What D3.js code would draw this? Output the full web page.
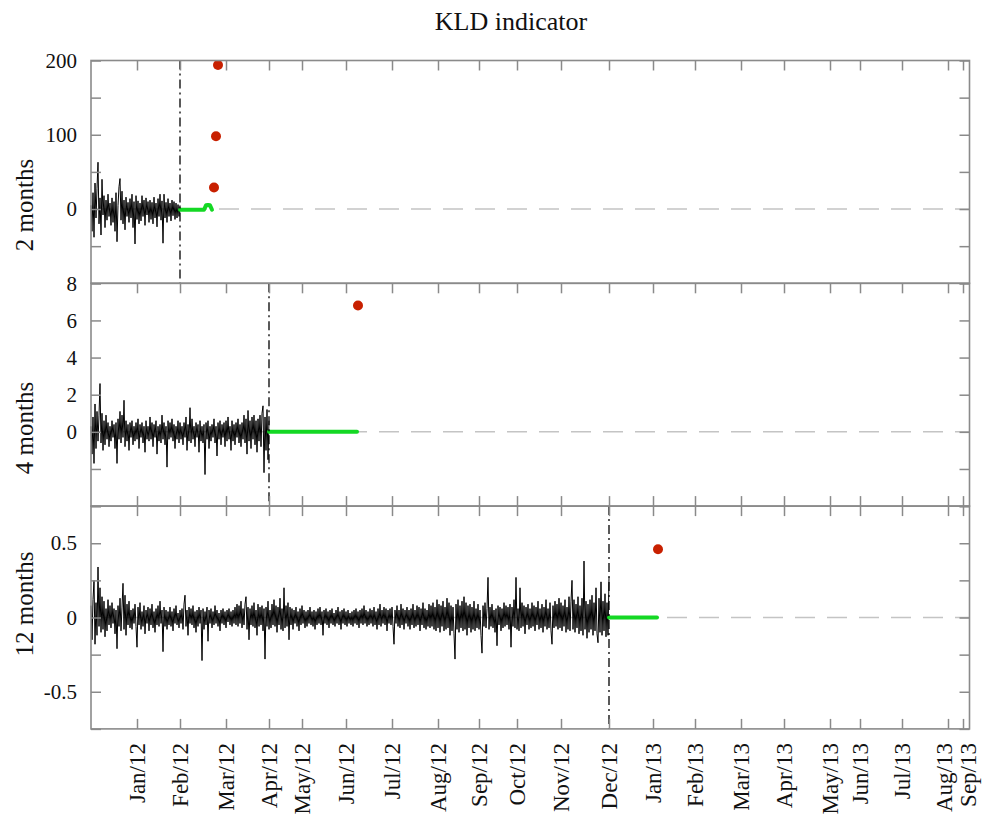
<!DOCTYPE html>
<html>
<head>
<meta charset="utf-8">
<script src="https://cdn.jsdelivr.net/npm/d3@7"></script>
<style>
  body { margin: 0; background: #fff; }
  text { font-family: "Liberation Serif", "Times New Roman", serif; fill: #111; }
</style>
</head>
<body>
<svg id="chart" width="983" height="814"></svg>
<script>
// x axis is a sample index; month ticks sit where each month starts
var monthTicks = [46, 89, 135, 178, 211, 255, 301, 347, 388, 426, 470, 518, 562, 604, 650, 693, 739, 769, 811, 857, 872];
var monthNames = ["Jan/12", "Feb/12", "Mar/12", "Apr/12", "May/12", "Jun/12", "Jul/12", "Aug/12", "Sep/12", "Oct/12",
                  "Nov/12", "Dec/12", "Jan/13", "Feb/13", "Mar/13", "Apr/13", "May/13", "Jun/13", "Jul/13", "Aug/13", "Sep/13"];

var panelNames = ["2 months", "4 months", "12 months"];
var yDomains = [[-100, 200], [-4, 8], [-0.75, 0.75]];
var yTicks = [[-100, -50, 0, 50, 100, 150, 200], [-4, -2, 0, 2, 4, 6, 8], [-0.75, -0.5, -0.25, 0, 0.25, 0.5, 0.75]];
var yTickLabels = [[0, 100, 200], [0, 2, 4, 6, 8], [-0.5, 0, 0.5]];

// sample where the estimation window ends (dash-dot line)
var splitAt = [89, 178, 518];

// KLD indicator, one value per sample
var kld2 = [
  5, -30, 22, -38, 35, -12, 28, 63, -20, 15,
  -35, 40, -8, 18, -25, 12, -15, 20, -10, 8,
  -22, 15, -18, 10, -30, 22, -44, 5, 30, 41,
  -15, 24, -20, 12, -28, 16, -10, 9, -18, 14,
  -12, 20, -25, 10, -47, 18, -14, 11, -20, 8,
  -16, 18, -10, 12, -22, 15, -8, 10, -18, 12,
  -14, 9, -20, 16, -12, 8, -24, 14, -10, 20,
  -15, 11, -46, 20, -12, 9, -18, 14, -10, 8,
  -16, 12, -9, 10, -14, 8, -12, 6, -10, 5
];
var kld4 = [
  0.3, -1.2, 0.8, -1.7, 1.5, -0.9, 1.1, -0.5, 0.9, 2.6,
  -0.6, 1.0, -1.0, 0.6, -0.7, 0.9, -0.4, 0.5, -0.8, 0.3,
  -0.5, 0.6, -0.3, 0.4, -0.9, 0.5, -1.7, 0.7, -0.4, 1.1,
  -0.6, 0.9, -0.3, 1.7, -0.8, 0.6, -0.5, 0.4, -1.0, 0.5,
  -0.3, 0.6, -0.7, 0.3, -0.5, 0.5, -0.4, 0.7, -0.9, 0.4,
  -0.3, 0.5, -0.6, 0.3, -1.1, 0.6, -0.4, 0.3, -0.5, 0.8,
  -0.4, 0.5, -0.8, 0.4, -0.3, 0.6, -1.2, 0.3, -0.5, 0.4,
  -0.6, 0.9, -0.4, 0.5, -0.7, 0.3, -1.9, 0.6, -0.4, 0.5,
  -0.3, 0.7, -0.5, 0.4, -0.9, 0.3, -0.4, 0.6, -0.6, 0.5,
  -0.4, 0.3, -0.7, 0.5, -0.3, 0.8, -1.0, 0.4, -0.5, 1.3,
  -0.6, 0.7, -0.4, 0.3, -0.8, 0.5, -0.3, 0.4, -1.1, 0.6,
  -0.5, 0.3, -0.6, 0.4, -2.3, 0.5, -0.4, 0.6, -0.9, 0.3,
  -0.5, 0.4, -0.3, 0.7, -0.6, 0.3, -1.3, 0.5, -0.4, 0.6,
  -0.7, 0.4, -0.3, 0.5, -0.8, 0.6, -0.5, 0.8, -0.4, 0.3,
  -1.0, 0.6, -0.5, 0.4, -0.7, 0.5, -0.3, 0.7, -0.6, 0.4,
  -0.8, 0.5, -0.4, 0.9, -0.6, 0.7, -1.2, 1.15, -0.5, 0.6,
  -0.9, 0.8, -0.4, 0.9, -0.7, 0.6, -1.1, 0.7, -0.5, 0.9,
  -0.8, 1.0, 1.4, -2.2, 0.8, -1.0, 1.2, -1.5, 0.6
];
var kld12 = [
  0.08, -0.15, 0.12, 0.25, -0.18, 0.10, -0.12, 0.34, -0.06, 0.20, -0.10, 0.14, -0.08, 0.11, -0.13, 0.06, -0.09, 0.12, -0.05, 0.08,
  -0.07, 0.10, -0.04, 0.06, -0.11, 0.05, -0.21, 0.08, -0.06, 0.13, -0.09, 0.07, 0.23, -0.08, 0.15, -0.12, 0.09, -0.05, 0.11, -0.07,
  0.05, -0.08, 0.06, -0.04, 0.09, -0.06, -0.20, 0.07, -0.05, 0.10, -0.08, 0.04, -0.06, 0.08, -0.11, 0.05, -0.04, 0.07, -0.09, 0.06,
  -0.05, 0.09, -0.07, 0.04, -0.10, 0.06, -0.05, 0.08, -0.06, 0.11, -0.04, 0.05, -0.23, 0.07, -0.06, 0.05, -0.08, 0.04, -0.05, 0.07,
  -0.06, 0.04, -0.09, 0.06, -0.04, 0.08, -0.05, 0.03, -0.07, 0.05, -0.04, 0.06, -0.08, 0.09, 0.15, -0.06, 0.05, -0.12, 0.07, -0.04,
  0.06, -0.05, 0.08, -0.07, 0.04, -0.10, 0.05, -0.06, 0.07, -0.04, 0.05, -0.29, 0.06, -0.08, 0.04, -0.05, 0.07, -0.16, 0.05, -0.04,
  0.06, -0.07, 0.04, -0.05, 0.08, -0.04, 0.05, -0.06, 0.03, -0.09, 0.05, -0.04, 0.06, -0.05, 0.04, -0.07, 0.05, -0.03, 0.06, -0.05,
  0.04, -0.06, 0.05, -0.04, 0.07, -0.05, 0.09, -0.06, 0.08, -0.04, 0.11, -0.07, 0.06, -0.05, 0.09, 0.14, -0.08, 0.07, -0.15, 0.06,
  -0.05, 0.08, -0.06, 0.10, -0.07, 0.05, -0.12, 0.09, -0.06, 0.07, -0.05, 0.08, -0.09, 0.06, -0.28, 0.07, -0.06, 0.11, -0.08, 0.05,
  -0.07, 0.09, -0.05, 0.12, -0.06, 0.08, -0.10, 0.07, -0.05, 0.13, -0.08, 0.06, -0.09, 0.20, -0.07, 0.08, -0.06, 0.10, -0.15, 0.07,
  -0.05, 0.06, -0.08, 0.05, -0.04, 0.07, -0.06, 0.04, -0.09, 0.06, -0.05, 0.08, -0.04, 0.05, -0.07, 0.04, -0.06, 0.05, -0.04, 0.07,
  -0.05, 0.04, -0.06, 0.05, -0.08, 0.04, -0.05, 0.06, -0.04, 0.07, -0.05, 0.04, -0.12, 0.05, -0.04, 0.06, -0.05, 0.04, -0.07, 0.05,
  -0.04, 0.06, -0.05, 0.03, -0.06, 0.05, -0.04, 0.07, -0.05, 0.04, -0.08, 0.05, -0.04, 0.06, -0.05, 0.04, -0.06, 0.05, -0.04, 0.03,
  -0.05, 0.04, -0.06, 0.05, -0.04, 0.06, -0.05, 0.04, -0.07, 0.05, -0.04, 0.06, -0.05, 0.08, -0.04, 0.05, -0.06, 0.04, -0.05, 0.06,
  -0.04, 0.05, -0.06, 0.07, -0.05, 0.04, -0.08, 0.06, -0.05, 0.09, -0.06, 0.05, -0.04, 0.07, -0.05, 0.06, -0.09, 0.05, -0.04, 0.06,
  -0.05, 0.07, -0.06, -0.18, 0.05, -0.04, 0.08, -0.06, 0.05, -0.07, 0.09, -0.05, 0.06, -0.08, 0.05, -0.04, 0.07, -0.06, 0.05, -0.08,
  0.06, -0.05, 0.09, -0.07, 0.05, -0.06, 0.08, -0.05, 0.07, -0.09, 0.06, -0.05, 0.10, -0.07, 0.06, -0.08, 0.05, -0.06, 0.09, -0.07,
  0.08, -0.06, 0.10, -0.08, 0.07, -0.09, 0.12, -0.07, 0.09, -0.10, 0.08, -0.06, 0.11, -0.09, 0.07, -0.08, 0.13, -0.07, 0.10, -0.12,
  0.08, -0.09, 0.07, -0.11, -0.28, 0.09, -0.08, 0.12, -0.10, 0.08, -0.07, 0.11, -0.09, 0.14, -0.08, 0.10, -0.12, 0.08, -0.07, 0.09,
  -0.10, 0.07, -0.08, 0.11, -0.09, 0.06, -0.07, 0.09, -0.08, 0.05, -0.12, -0.24, 0.08, -0.06, 0.10, -0.07, 0.06, 0.27, -0.08, 0.07,
  -0.06, 0.09, -0.07, 0.05, -0.10, 0.06, -0.19, 0.08, -0.05, 0.07, -0.09, 0.06, -0.07, 0.10, -0.06, 0.08, -0.05, 0.07, -0.08, 0.09,
  -0.20, 0.07, -0.06, 0.12, -0.07, 0.27, -0.08, 0.06, -0.09, 0.20, -0.07, 0.10, -0.06, 0.08, -0.11, 0.07, -0.05, 0.09, -0.08, 0.06,
  -0.07, 0.10, -0.06, 0.08, -0.09, 0.07, -0.05, 0.11, -0.08, 0.06, -0.07, 0.09, -0.10, 0.07, -0.06, 0.12, -0.08, 0.06, -0.07, 0.10,
  -0.09, -0.18, 0.08, -0.07, 0.11, -0.06, 0.09, -0.08, 0.13, -0.07, 0.10, -0.09, 0.08, -0.06, 0.12, -0.10, 0.07, -0.08, 0.14, -0.09,
  0.11, 0.25, -0.08, 0.12, -0.10, 0.09, -0.07, 0.14, -0.11, 0.08, -0.09, 0.13, -0.12, 0.38, -0.08, 0.11, -0.14, 0.09, -0.10, 0.12,
  -0.08, 0.15, -0.12, 0.10, -0.09, 0.20, -0.11, -0.17, 0.13, -0.10, 0.24, -0.12, 0.11, -0.09, 0.16, -0.13, 0.10, -0.12, 0.27
];

// forecast (green), one value every 2 samples from the split
var fc2 = [-1, -1, -1, -1, -1, -1, -1, -1, -1, -1, -1, -1, -1, 5, 5.5, 5, -1];
var fc4 = [0, 0, 0, 0, 0, 0, 0, 0, 0, 0, 0, 0, 0, 0, 0, 0, 0, 0, 0, 0, 0, 0, 0, 0, 0,
           0, 0, 0, 0, 0, 0, 0, 0, 0, 0, 0, 0, 0, 0, 0, 0, 0, 0, 0, 0];
var fc12 = [0, 0, 0, 0, 0, 0, 0, 0, 0, 0, 0, 0, 0, 0, 0, 0, 0, 0, 0, 0, 0, 0, 0, 0, 0];

// red points: sample index and value
var dotIdx = [[123, 125, 127], [267], [567]];
var dotVal = [[29, 98, 194], [6.8], [0.46]];

var series = [kld2, kld4, kld12];
var forecasts = [fc2, fc4, fc12];

var left = 91, right = 969.5, top0 = 60.5, ph = 222.8;
var frameColor = "#8a8a8a";
var titleCenters = [205, 428, 604];

var svg = d3.select("#chart");

var x = d3.scaleLinear().domain([0, 878.5]).range([left, right]);

svg.append("text")
    .attr("x", 511).attr("y", 30)
    .attr("text-anchor", "middle")
    .style("font-size", "26px")
    .text("KLD indicator");

panelNames.forEach(function(name, p) {
    var y0 = top0 + p * ph;
    var y = d3.scaleLinear().domain(yDomains[p]).range([y0 + ph, y0]);
    var g = svg.append("g");

    // zero reference line
    g.append("line")
        .attr("x1", left).attr("x2", right)
        .attr("y1", y(0)).attr("y2", y(0))
        .attr("stroke", "#c4c4c4")
        .attr("stroke-width", 1.5)
        .attr("stroke-dasharray", "20,12");

    // indicator
    var line = d3.line()
        .x(function(d, i) { return x(i); })
        .y(function(d) { return y(d); });
    g.append("path")
        .datum(series[p])
        .attr("d", line)
        .attr("fill", "none")
        .attr("stroke", "#000")
        .attr("stroke-width", 1);

    // forecast
    var fline = d3.line()
        .x(function(d, i) { return x(splitAt[p] + i * 2); })
        .y(function(d) { return y(d); });
    g.append("path")
        .datum(forecasts[p])
        .attr("d", fline)
        .attr("fill", "none")
        .attr("stroke", "#14d824")
        .attr("stroke-width", 4)
        .attr("stroke-linecap", "round")
        .attr("stroke-linejoin", "round");

    // end of estimation window
    g.append("line")
        .attr("x1", x(splitAt[p])).attr("x2", x(splitAt[p]))
        .attr("y1", y0).attr("y2", y0 + ph)
        .attr("stroke", "#000")
        .attr("stroke-width", 1.3)
        .attr("stroke-dasharray", "9,4,2,4");

    g.selectAll("circle")
        .data(dotVal[p])
        .enter()
        .append("circle")
        .attr("cx", function(d, i) { return x(dotIdx[p][i]); })
        .attr("cy", function(d) { return y(d); })
        .attr("r", 5)
        .attr("fill", "#c82000");

    // axes: all ticks point inward
    var labFmt = function(d) { return yTickLabels[p].indexOf(d) >= 0 ? String(d) : ""; };
    var ax = [
        g.append("g").attr("transform", "translate(" + left + ",0)")
            .call(d3.axisLeft(y).tickValues(yTicks[p]).tickSize(-10).tickPadding(14).tickFormat(labFmt)),
        g.append("g").attr("transform", "translate(" + right + ",0)")
            .call(d3.axisRight(y).tickValues(yTicks[p]).tickSize(-10).tickFormat("")),
        g.append("g").attr("transform", "translate(0," + y0 + ")")
            .call(d3.axisTop(x).tickValues(monthTicks).tickSize(-10).tickFormat(""))
    ];
    // the top panel shows no ticks on its lower edge
    if (p > 0) {
        ax.push(g.append("g").attr("transform", "translate(0," + (y0 + ph) + ")")
            .call(d3.axisBottom(x).tickValues(monthTicks).tickSize(-10).tickFormat("")));
    }
    ax.forEach(function(a) {
        a.select(".domain").remove();
        a.selectAll(".tick line").attr("stroke", frameColor).attr("stroke-width", 1.5);
        a.selectAll("text")
            .style("font-family", '"Liberation Serif", serif')
            .style("font-size", "21px")
            .attr("fill", "#111");
    });

    g.append("rect")
        .attr("x", left).attr("y", y0)
        .attr("width", right - left).attr("height", ph)
        .attr("fill", "none")
        .attr("stroke", frameColor)
        .attr("stroke-width", 1.6);

    svg.append("text")
        .attr("transform", "translate(33," + titleCenters[p] + ") rotate(-90)")
        .attr("text-anchor", "middle")
        .style("font-size", "25px")
        .text(name);
});

// month labels, pushed apart where two ticks sit too close
var labX = monthTicks.map(function(t) { return x(t); });
for (var i = 1; i < labX.length; i++) {
    if (labX[i] - labX[i - 1] < 24) {
        var mid = (labX[i] + labX[i - 1]) / 2;
        labX[i - 1] = mid - 12;
        labX[i] = mid + 12;
    }
}
svg.append("g").selectAll("text")
    .data(monthNames)
    .enter()
    .append("text")
    .attr("transform", function(d, i) { return "translate(" + labX[i] + ",743) rotate(-90)"; })
    .attr("text-anchor", "end")
    .attr("dy", "0.35em")
    .style("font-size", "23px")
    .text(function(d) { return d; });
</script>
</body>
</html>
